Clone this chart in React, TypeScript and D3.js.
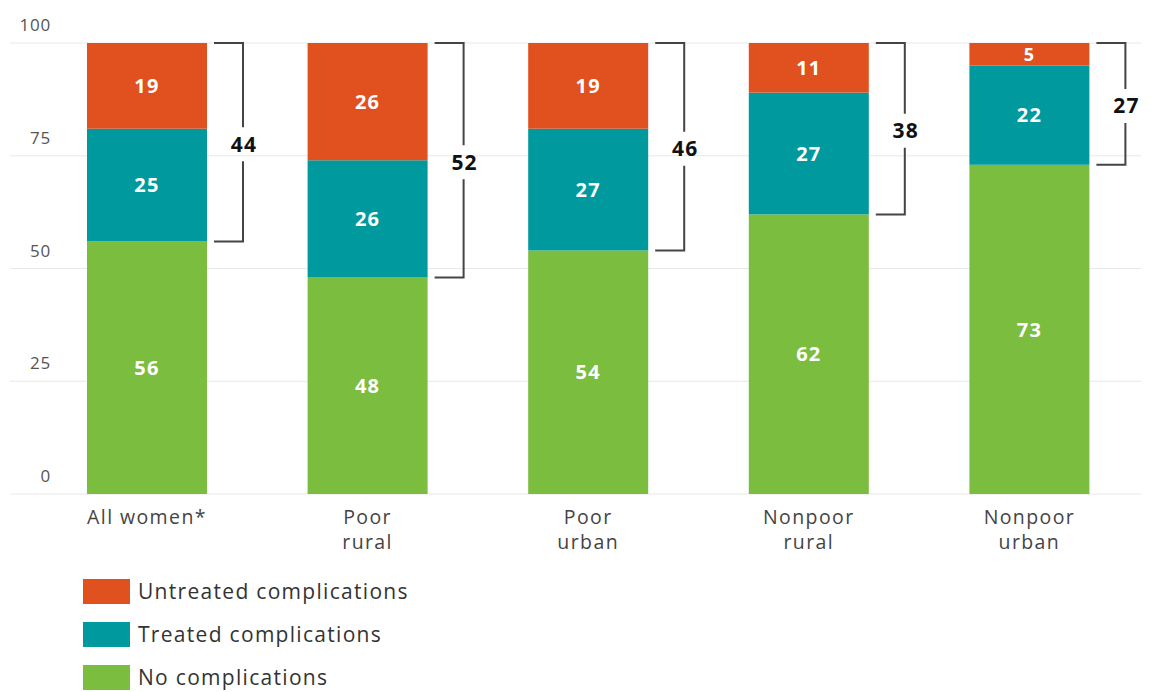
import React from "react";
import * as d3 from "d3";

const categories = ["All women*", "Poor rural", "Poor urban", "Nonpoor rural", "Nonpoor urban"];
const categoryLines = [["All women*"], ["Poor", "rural"], ["Poor", "urban"], ["Nonpoor", "rural"], ["Nonpoor", "urban"]];
const noComplications = [56, 48, 54, 62, 73];
const treatedComplications = [25, 26, 27, 27, 22];
const untreatedComplications = [19, 26, 19, 11, 5];
const bracketTotals = [44, 52, 46, 38, 27];
const yTicks = [0, 25, 50, 75, 100];
const seriesNames = ["Untreated complications", "Treated complications", "No complications"];
const seriesColors = ["#E1501F", "#00999D", "#7BBD3F"];

const W = 1151;
const H = 692;
const FONT = "'Open Sans', 'DejaVu Sans', sans-serif";

export default function App() {
  const x = d3.scaleBand<string>().domain(categories).range([36.7, 1139.7]).paddingInner(0.456).paddingOuter(0.228);
  const y = d3.scaleLinear().domain([0, 100]).range([494, 43]);

  const rows = categories.map((c, i) => ({
    cat: c,
    none: noComplications[i],
    treated: treatedComplications[i],
    untreated: untreatedComplications[i],
  }));
  const stack = d3.stack<any>().keys(["none", "treated", "untreated"]);
  const stacked = stack(rows);
  const colorByKey: Record<string, string> = {
    untreated: seriesColors[0],
    treated: seriesColors[1],
    none: seriesColors[2],
  };

  const bw = x.bandwidth();

  return (
    <svg width={W} height={H} style={{ position: "absolute", left: 0, top: 0, background: "#fff" }} fontFamily={FONT}>
      {/* gridlines */}
      {yTicks.map((t) => (
        <g key={t}>
          <line x1={10} x2={1141} y1={y(t)} y2={y(t)} stroke="#e8e8e8" strokeWidth={1} />
          <text x={51} y={y(t) - 12} textAnchor="end" fontSize={17} fill="#555" letterSpacing={0.8}>
            {t}
          </text>
        </g>
      ))}
      {/* bars */}
      {stacked.map((s) => (
        <g key={s.key} fill={colorByKey[s.key]}>
          {s.map((d, i) => (
            <g key={i}>
              <rect x={x(categories[i])} y={y(d[1])} width={bw} height={y(d[0]) - y(d[1])} />
              <text
                x={(x(categories[i]) as number) + bw / 2}
                y={(y(d[0]) + y(d[1])) / 2}
                dy="0.36em"
                textAnchor="middle"
                fill="#fff"
                fontWeight={700}
                letterSpacing={1.2}
                fontSize={d[1] - d[0] < 8 ? 18 : 20}
              >
                {d[1] - d[0]}
              </text>
            </g>
          ))}
        </g>
      ))}
      {/* brackets */}
      {categories.map((c, i) => {
        const x0 = (x(c) as number) + bw + 7;
        const xv = (x(c) as number) + bw + 36;
        const yTop = y(100);
        const yBot = y(100 - bracketTotals[i]);
        const yMid = (yTop + yBot) / 2 + 2;
        const gap = 17;
        return (
          <g key={c}>
            <path
              d={`M${x0},${yTop}H${xv}V${yMid - gap}M${xv},${yMid + gap}V${yBot}H${x0}`}
              fill="none"
              stroke="#444"
              strokeWidth={2}
            />
            <text x={xv + 1} y={yMid} dy="0.36em" textAnchor="middle" fontWeight={700} fontSize={21} letterSpacing={1.2} fill="#111">
              {bracketTotals[i]}
            </text>
          </g>
        );
      })}
      {/* x labels */}
      {categories.map((c, i) => (
        <text key={c} textAnchor="middle" fontSize={19.5} fill="#444" letterSpacing={1.4}>
          {categoryLines[i].map((l, j) => (
            <tspan key={j} x={(x(c) as number) + bw / 2} y={524 + j * 25}>
              {l}
            </tspan>
          ))}
        </text>
      ))}
      {/* legend */}
      {seriesNames.map((n, i) => (
        <g key={n} transform={`translate(83, ${579 + i * 43})`}>
          <rect x={0} y={0} width={47} height={25} fill={seriesColors[i]} />
          <text x={55} y={20} fontSize={21} fill="#333" letterSpacing={1.3}>
            {n}
          </text>
        </g>
      ))}
    </svg>
  );
}
